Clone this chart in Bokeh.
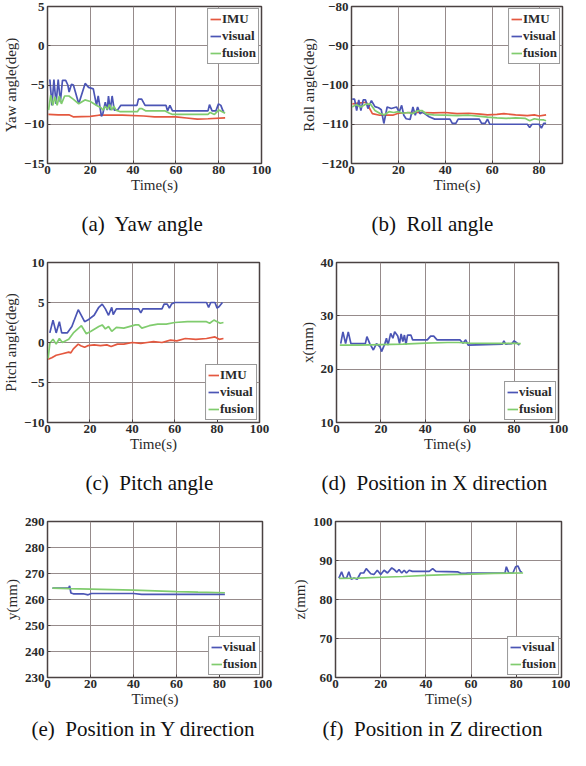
from bokeh.plotting import figure
from bokeh.layouts import column, row
from bokeh.models import Title, Range1d, FixedTicker
from bokeh.embed import file_html
from bokeh.resources import INLINE

# ---------------- data ----------------
# (a) Yaw angle
yaw_imu_t = [0.4, 5, 10, 12, 20, 24, 35, 45, 50, 60, 65, 70, 75, 83]
yaw_imu = [-8.75, -8.8, -8.8, -9.05, -9.0, -8.85, -8.85, -8.95, -9.05, -9.05, -9.2, -9.35, -9.3, -9.2]
yaw_vis_t = [1.1, 2.1, 3.0, 4.0, 5.0, 6.0, 7.0, 8.5, 9.5, 10.1, 11.2, 12.1, 14.6, 17.6, 19.2, 21.4, 22.9, 23.7,
             25.2, 25.9, 27.0, 27.9, 28.5, 29.3, 30.2, 31.2, 32.7, 34.2, 41.8, 42.5, 44.0, 45.6, 55.4, 56.1,
             57.2, 58.4, 75.0, 75.7, 76.9, 78.7, 79.9, 81.0, 82.0, 82.5]
yaw_vis = [-4.3, -7.6, -4.3, -7.4, -4.3, -7.2, -4.4, -4.4, -5.0, -5.9, -4.9, -5.0, -7.4, -4.8, -5.3, -5.5, -7.6, -6.4,
           -9.0, -8.6, -7.2, -8.2, -6.4, -8.2, -6.4, -8.2, -8.2, -7.6, -7.6, -6.8, -6.8, -7.6, -7.6, -8.3,
           -7.6, -8.3, -8.3, -7.5, -8.3, -8.3, -7.4, -7.6, -8.3, -8.4]
yaw_fus_t = [0.5, 1.5, 2.5, 3.5, 4.5, 5.5, 6.5, 8.0, 10.0, 12.0, 14.6, 17.5, 20.0, 23.0, 25.0, 26.0, 27.0, 28.0,
             29.0, 30.0, 31.0, 32.0, 34.0, 42.0, 43.0, 44.0, 46.0, 55.0, 57.0, 58.5, 75.0, 76.0, 78.0, 80.0,
             81.0, 83.0]
yaw_fus = [-8.2, -6.3, -7.6, -6.5, -7.6, -6.4, -7.4, -6.4, -6.4, -6.8, -7.4, -6.9, -7.1, -7.6, -7.9, -8.2, -7.7, -8.1,
           -7.5, -8.2, -7.7, -8.2, -8.4, -8.4, -8.0, -8.0, -8.3, -8.3, -8.6, -8.75, -8.75, -8.5, -8.75, -8.2,
           -8.3, -8.6]

# (b) Roll angle
roll_imu_t = [0.4, 3, 6.3, 8.9, 12, 17.6, 20, 25, 30, 35, 40, 45, 50, 55, 58, 62, 65, 70, 75, 78, 80, 83]
roll_imu = [-104.8, -104.6, -104.4, -107.3, -107.7, -107.7, -107.2, -107.0, -107.0, -107.1, -107.0, -107.3,
            -107.2, -107.4, -107.6, -107.5, -107.3, -107.6, -107.8, -107.6, -107.9, -107.6]
roll_vis_t = [0.3, 1.3, 2.2, 3.1, 4.0, 5.0, 6.0, 7.0, 8.5, 10.0, 11.5, 12.7, 13.8, 15.2, 17.0, 19.2, 20.3, 21.4,
              22.3, 23.3, 25.0, 26.2, 27.2, 28.2, 29.2, 30.3, 33.1, 35.5, 42.0, 43.0, 44.5, 45.5, 54.5, 55.5,
              57.0, 58.0, 59.0, 75.0, 76.0, 77.0, 80.0, 81.0, 82.0, 83.0]
roll_vis = [-103.6, -103.6, -106.5, -103.8, -106.5, -103.8, -103.8, -106.0, -104.0, -105.5, -105.8, -106.3,
            -109.8, -105.6, -106.0, -105.6, -106.9, -105.2, -107.7, -108.6, -108.8, -105.6, -107.7, -105.6,
            -107.3, -106.9, -108.1, -108.7, -108.7, -109.8, -109.8, -108.7, -108.7, -109.8, -109.8, -108.7,
            -110.0, -110.0, -110.8, -110.0, -110.0, -111.0, -109.8, -109.8]
roll_fus_t = [0.3, 2, 4, 6, 8, 10, 12, 14, 16, 18, 20, 22, 24, 26, 28, 30, 32, 35, 40, 45, 50, 55, 58, 62, 66,
              70, 74, 76, 78, 80, 82, 83]
roll_fus = [-105.6, -105.0, -105.6, -104.9, -104.8, -106.5, -107.2, -107.6, -106.8, -107.0, -106.8, -107.2,
            -107.0, -107.3, -106.6, -106.5, -107.4, -107.6, -107.7, -107.8, -107.7, -108.0, -108.2, -108.4,
            -108.5, -108.4, -108.5, -109.1, -108.6, -108.8, -108.9, -109.1]

# (c) Pitch angle
pitch_imu_t = [0.3, 2.0, 4.1, 7.0, 10.0, 11.0, 12.2, 14.5, 15.7, 17.5, 19.0, 22.0, 25.0, 28.0, 30.0, 33.0,
               36.0, 40.0, 44.0, 47.0, 50.0, 54.0, 58.0, 61.0, 65.0, 70.0, 75.0, 79.0, 81.0, 83.0]
pitch_imu = [-2.1, -1.9, -1.6, -1.4, -1.2, -1.3, -0.8, -0.2, -0.4, -0.6, -0.4, -0.3, -0.4, -0.3, -0.5, -0.2,
             -0.2, 0.0, -0.1, 0.0, 0.1, 0.0, 0.3, 0.2, 0.5, 0.4, 0.5, 0.7, 0.4, 0.5]
pitch_vis_t = [1.1, 2.6, 4.1, 5.6, 6.7, 9.3, 11.5, 14.5, 17.5, 19.0, 22.0, 24.2, 25.8, 27.3, 28.8, 30.3, 31.0,
               32.5, 43.0, 44.0, 45.0, 54.0, 55.0, 56.5, 57.5, 58.5, 60.0, 75.0, 76.0, 77.0, 79.0, 80.0, 81.0,
               82.5]
pitch_vis = [1.2, 2.8, 1.2, 2.6, 1.2, 1.2, 2.0, 4.1, 2.6, 2.8, 3.4, 4.4, 4.8, 4.2, 3.4, 4.4, 3.5, 4.2, 4.2,
             3.7, 4.2, 4.2, 4.8, 4.8, 4.3, 4.8, 5.0, 5.0, 4.4, 5.0, 5.0, 4.3, 4.5, 5.0]
pitch_fus_t = [0.3, 1.1, 2.6, 4.1, 5.6, 7.0, 10.0, 12.2, 16.0, 18.3, 20.5, 24.2, 25.8, 27.3, 28.8, 30.3, 32.5,
               36.0, 41.5, 43.0, 44.5, 48.0, 52.0, 56.0, 60.0, 66.0, 72.0, 75.0, 76.5, 78.5, 80.0, 81.5, 83.0]
pitch_fus = [-2.0, -0.1, 0.4, -0.2, 0.5, 0.0, 0.4, 1.2, 2.1, 1.1, 1.4, 2.0, 2.2, 1.7, 2.0, 1.4, 1.9, 1.8,
             2.2, 2.2, 1.8, 2.1, 2.3, 2.3, 2.5, 2.6, 2.6, 2.6, 2.4, 2.8, 2.6, 2.4, 2.5]

# (d) Position in X direction
x_vis_t = [1.9, 2.9, 4.1, 5.3, 6.5, 10.0, 13.0, 13.7, 15.0, 16.6, 18.0, 19.6, 20.3, 21.8, 22.5, 23.2, 24.4,
           25.4, 26.2, 27.6, 28.4, 29.1, 29.9, 30.6, 31.3, 32.0, 33.5, 34.3, 40.9, 42.4, 43.8, 45.3, 55.6,
           57.0, 58.2, 59.3, 74.7, 75.4, 76.2, 79.0, 80.0, 81.3, 82.4]
x_vis = [24.8, 27.0, 24.8, 27.0, 24.8, 24.8, 24.8, 26.1, 24.8, 23.6, 24.8, 24.2, 23.3, 24.8, 25.8, 24.5, 26.7,
         25.8, 27.0, 26.2, 24.8, 26.6, 25.2, 26.4, 24.6, 26.4, 26.4, 25.5, 25.5, 26.2, 26.2, 25.5, 25.5,
         24.85, 25.5, 24.5, 24.7, 25.3, 24.7, 24.8, 25.3, 24.9, 24.5]
x_fus_t = [1.5, 10, 20, 30, 40, 50, 55, 60, 70, 80, 83]
x_fus = [24.5, 24.5, 24.6, 24.7, 24.9, 25.0, 25.0, 24.9, 24.85, 24.85, 24.8]

# (e) Position in Y direction
y_vis_t = [2.3, 9.8, 10.3, 10.9, 12.0, 16.6, 18.9, 20.4, 30.0, 40.0, 43.8, 60.0, 75.0, 82.5]
y_vis = [264.4, 264.4, 265.2, 262.5, 262.2, 262.2, 261.8, 262.3, 262.3, 262.3, 262.0, 262.0, 262.0, 262.0]
y_fus_t = [2.3, 10, 20, 30, 40, 50, 60, 70, 82.5]
y_fus = [264.4, 264.2, 264.0, 263.8, 263.6, 263.3, 263.0, 262.8, 262.6]

# (f) Position in Z direction
z_vis_t = [1.5, 2.7, 3.7, 4.9, 5.9, 7.0, 8.2, 9.6, 11.1, 12.5, 13.6, 15.6, 17.0, 18.5, 20.0, 21.5, 23.0, 24.9,
           25.9, 27.1, 28.1, 29.3, 30.4, 31.4, 32.6, 34.0, 41.5, 43.0, 44.4, 54.0, 55.5, 57.5, 58.5, 75.0,
           75.6, 76.7, 78.5, 79.7, 80.7, 81.8, 82.5]
z_vis = [85.5, 87.1, 85.5, 85.5, 87.1, 85.2, 85.5, 85.2, 86.8, 86.8, 87.9, 86.6, 86.4, 87.5, 86.4, 87.5, 86.8,
         88.1, 87.7, 87.0, 87.7, 86.8, 87.5, 86.8, 87.5, 87.2, 87.2, 87.9, 87.2, 87.1, 86.7, 86.7, 86.8, 86.8,
         88.4, 86.8, 86.8, 88.4, 88.6, 87.2, 87.0]
z_fus_t = [1.5, 10, 20, 30, 40, 50, 60, 70, 83]
z_fus = [85.4, 85.5, 85.7, 85.9, 86.2, 86.4, 86.5, 86.7, 86.8]

x_ticks = [0, 20, 40, 60, 80, 100]
x_ticks_roll = [0, 20, 40, 60, 80]

# ---------------- style ----------------
RED = "#e4583f"
BLUE = "#4b55b5"
GREEN = "#80cc6e"
FONT = "Liberation Serif"
DARK = "#4a4242"


def make(w, h, bl, br, bt, bb, x_end, y_rng, xt, yt, ylabel, caption, cap_off, cap_standoff, series, loc):
    p = figure(width=w, height=h, output_backend="svg", toolbar_location=None,
               x_range=Range1d(0, x_end), y_range=Range1d(*y_rng),
               min_border_left=bl, min_border_right=br, min_border_top=bt, min_border_bottom=bb,
               background_fill_color="white", border_fill_color="white")
    p.xaxis.ticker = FixedTicker(ticks=xt)
    p.yaxis.ticker = FixedTicker(ticks=yt)
    p.axis.axis_line_color = None
    p.axis.major_tick_in = 3
    p.axis.major_tick_out = 0
    p.axis.major_tick_line_color = DARK
    p.axis.minor_tick_line_color = None
    p.axis.major_label_text_font = FONT
    p.axis.major_label_text_font_size = "13px"
    p.axis.major_label_text_font_style = "bold"
    p.axis.major_label_text_color = "#2a2a2a"
    p.axis.axis_label_text_font = FONT
    p.axis.axis_label_text_font_size = "15px"
    p.axis.axis_label_text_font_style = "normal"
    p.axis.axis_label_text_color = "#2a2a2a"
    p.xaxis.axis_label = "Time(s)"
    p.xaxis.major_label_standoff = 2
    p.xaxis.axis_label_standoff = 0
    p.yaxis.axis_label = ylabel
    p.yaxis.major_label_standoff = 3
    p.yaxis.axis_label_standoff = 2
    p.grid.grid_line_color = "#968b8b"
    p.grid.grid_line_width = 1
    p.outline_line_color = DARK
    p.outline_line_width = 1.5

    for t, v, col, name in series:
        p.line(t, v, line_color=col, line_width=1.7, legend_label=name)

    lg = p.legend[0]
    lg.location = loc
    lg.border_line_color = "#333333"
    lg.border_line_width = 1
    lg.background_fill_color = "white"
    lg.background_fill_alpha = 1
    lg.label_text_font = FONT
    lg.label_text_font_size = "13px"
    lg.label_text_font_style = "bold"
    lg.label_text_color = "#2a2a2a"
    lg.label_height = 14
    lg.glyph_height = 14
    lg.glyph_width = 11
    lg.label_standoff = 1
    lg.spacing = 1
    lg.padding = 2
    lg.margin = 2

    p.add_layout(Title(text=caption, align="left", offset=cap_off, text_font=FONT,
                       text_font_size="21px", text_font_style="normal", text_color="#111111",
                       standoff=cap_standoff), "below")
    return p


pa = make(285, 255, 41, 24, 6, 92, 100, (-15, 5), x_ticks, [-15, -10, -5, 0, 5],
          "Yaw angle(deg)", "(a)\u00a0 Yaw angle", 34, 28,
          [(yaw_imu_t, yaw_imu, RED, "IMU"), (yaw_vis_t, yaw_vis, BLUE, "visual"),
           (yaw_fus_t, yaw_fus, GREEN, "fusion")], "top_right")
pb = make(285, 255, 66, 8, 6, 92, 90, (-120, -80), x_ticks_roll, [-120, -110, -100, -90, -80],
          "Roll angle(deg)", "(b)\u00a0 Roll angle", 20, 28,
          [(roll_imu_t, roll_imu, RED, "IMU"), (roll_vis_t, roll_vis, BLUE, "visual"),
           (roll_fus_t, roll_fus, GREEN, "fusion")], "top_right")
pc = make(285, 259, 36, 26, 7, 92, 100, (-10, 10), x_ticks, [-10, -5, 0, 5, 10],
          "Pitch angle(deg)", "(c)\u00a0 Pitch angle", 38, 28,
          [(pitch_imu_t, pitch_imu, RED, "IMU"), (pitch_vis_t, pitch_vis, BLUE, "visual"),
           (pitch_fus_t, pitch_fus, GREEN, "fusion")], "bottom_right")
pd = make(285, 259, 51, 12, 7, 92, 100, (10, 40), x_ticks, [10, 20, 30, 40],
          "x(mm)", "(d)\u00a0 Position in X direction", -15, 28,
          [(x_vis_t, x_vis, BLUE, "visual"), (x_fus_t, x_fus, GREEN, "fusion")], "bottom_right")
pe = make(285, 236, 42, 23, 7, 73, 100, (230, 290), x_ticks, [230, 240, 250, 260, 270, 280, 290],
          "y(mm)", "(e)\u00a0 Position in Y direction", -16, 10,
          [(y_vis_t, y_vis, BLUE, "visual"), (y_fus_t, y_fus, GREEN, "fusion")], "bottom_right")
pf = make(285, 236, 50, 9, 7, 73, 100, (60, 100), x_ticks, [60, 70, 80, 90, 100],
          "z(mm)", "(f)\u00a0 Position in Z direction", -13, 10,
          [(z_vis_t, z_vis, BLUE, "visual"), (z_fus_t, z_fus, GREEN, "fusion")], "bottom_right")

layout = column(row(pa, pb), row(pc, pd), row(pe, pf))
open("out.html", "w").write(file_html(layout, INLINE))
